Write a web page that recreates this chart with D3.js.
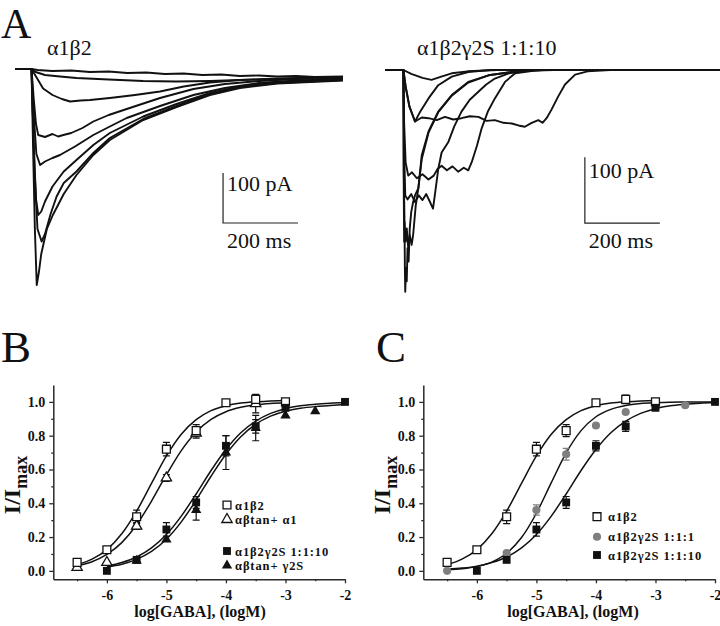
<!DOCTYPE html>
<html><head><meta charset="utf-8">
<script src="https://cdn.jsdelivr.net/npm/d3@7"></script>
<style>
body{margin:0;background:#fff}
svg{display:block;background:#fff}
text{font-family:"Liberation Serif","Times New Roman",serif;fill:#111}
</style>
</head><body>
<svg id="c" width="720" height="626"></svg>
<script>
// ---------------- DATA ----------------
// Panel A, left (α1β2): current traces [time ms, current pA]
const tracesLeft = [
  [[0,0],[44,0],[60,-2],[100,-4],[150,-3],[200,-6],[250,-5],[300,-8],[350,-7],[400,-10],[450,-9],[500,-12],[550,-11],[600,-14],[650,-13],[700,-15],[750,-14],[800,-16],[875,-15]],
  [[0,0],[44,0],[55,-6],[80,-12],[120,-15],[164,-18],[250,-21],[342,-24],[430,-25],[520,-24],[600,-22],[700,-20],[800,-18],[875,-17]],
  [[0,0],[44,0],[60,-20],[75,-39],[100,-52],[125,-60],[147,-65],[175,-63],[200,-62],[253,-58],[320,-52],[387,-45],[450,-35],[520,-27],[600,-22],[700,-19],[875,-16]],
  [[0,0],[44,0],[50,-60],[56,-110],[62,-132],[80,-136],[100,-130],[115,-135],[129,-132],[150,-128],[180,-118],[209,-105],[250,-92],[298,-80],[387,-58],[476,-40],[560,-30],[650,-24],[750,-20],[875,-18]],
  [[0,0],[44,0],[50,-90],[57,-170],[67,-192],[80,-185],[100,-178],[120,-172],[160,-155],[209,-132],[253,-115],[298,-98],[387,-74],[476,-52],[560,-38],[650,-28],[750,-23],[875,-20]],
  [[0,0],[44,0],[50,-150],[56,-260],[62,-292],[70,-285],[80,-265],[100,-235],[130,-205],[164,-182],[209,-152],[253,-128],[342,-95],[431,-70],[520,-48],[600,-35],[700,-27],[875,-22]],
  [[0,0],[44,0],[52,-200],[60,-320],[71,-345],[80,-330],[95,-290],[111,-255],[130,-228],[164,-205],[209,-168],[253,-138],[342,-100],[431,-74],[520,-50],[600,-36],[700,-28],[875,-22]],
  [[0,0],[44,0],[48,-150],[53,-320],[58,-432],[64,-405],[70,-370],[85,-320],[101,-292],[130,-250],[164,-212],[209,-172],[253,-142],[342,-102],[431,-76],[520,-52],[600,-38],[700,-29],[875,-23]]
];
// Panel A, right (α1β2γ2S 1:1:10)
const tracesRight = [
  [[0,0],[49,0],[70,-6],[100,-12],[124,-15],[150,-10],[178,-5],[220,-2],[300,0],[895,0]],
  [[0,0],[49,0],[55,-25],[65,-55],[80,-78],[98,-72],[116,-73],[138,-76],[160,-71],[182,-75],[204,-73],[226,-70],[249,-71],[271,-77],[293,-76],[316,-80],[338,-81],[356,-84],[373,-86],[391,-80],[409,-76],[420,-80],[431,-73],[444,-60],[462,-40],[480,-22],[507,-7],[540,-2],[600,0],[895,0]],
  [[0,0],[49,0],[55,-25],[65,-55],[80,-78],[95,-62],[116,-43],[142,-23],[178,-10],[222,-3],[280,0],[895,0]],
  [[0,0],[49,0],[51,-80],[55,-140],[62,-160],[72,-155],[85,-164],[100,-158],[116,-166],[130,-160],[140,-150],[151,-145],[165,-152],[180,-146],[195,-154],[210,-148],[222,-152],[231,-140],[245,-115],[258,-88],[275,-62],[293,-43],[320,-18],[347,-5],[400,-1],[450,0],[895,0]],
  [[0,0],[49,0],[51,-120],[54,-190],[60,-196],[70,-188],[80,-200],[90,-190],[100,-197],[110,-188],[120,-200],[128,-210],[134,-185],[142,-150],[151,-125],[169,-109],[185,-85],[204,-63],[226,-45],[249,-33],[270,-22],[293,-13],[330,-5],[400,0],[895,0]],
  [[0,0],[49,0],[50,-150],[52,-230],[55,-260],[58,-240],[62,-270],[66,-250],[71,-265],[75,-250],[82,-205],[89,-179],[98,-135],[116,-95],[142,-64],[178,-39],[222,-19],[276,-8],[350,-2],[420,0],[895,0]],
  [[0,0],[49,0],[50,-180],[51,-260],[52,-230],[53,-300],[54,-336],[56,-300],[58,-320],[60,-270],[63,-290],[66,-240],[70,-215],[75,-200],[80,-190],[89,-179],[98,-129],[116,-93],[142,-63],[178,-38],[222,-18],[276,-8],[350,-2],[420,0],[895,0]]
];
const scaleBarPA = 100, scaleBarMS = 200;

// Panels B & C: log[GABA] concentrations and I/Imax
const xTicks = [-6,-5,-4,-3,-2];
const yTicks = [0,0.2,0.4,0.6,0.8,1.0];

const a1b2X   = [-6.5,-6,-5.5,-5,-4.5,-4,-3.5,-3];
const a1b2Y   = [0.05,0.125,0.32,0.72,0.83,0.995,1.015,1.0];
const a1b2Err = [0,0,0.04,0.04,0.035,0,0.025,0];

const tanA1X   = [-6.5,-6,-5.5,-5,-4.5,-3.5];
const tanA1Y   = [0.02,0.05,0.265,0.55,0.815,0.99];
const tanA1Err = [0,0,0.02,0.02,0.03,0.055];

const g10X   = [-6,-5.5,-5,-4.5,-4,-3.5,-3,-2];
const g10Y   = [0.0,0.065,0.245,0.405,0.74,0.855,0.965,1.0];
const g10ErrB = [0,0,0.04,0.035,0.06,0.04,0,0];
const g10ErrC = [0,0,0.04,0.035,0.03,0.03,0.015,0];

const tanG2X   = [-5.5,-5,-4.5,-4,-3.5,-3,-2.5];
const tanG2Y   = [0.06,0.185,0.36,0.70,0.845,0.92,0.945];
const tanG2Err = [0,0,0.06,0.10,0.075,0,0];

const g1X   = [-6.5,-5.5,-5,-4.5,-4,-3.5,-2.5];
const g1Y   = [0.0,0.105,0.36,0.69,0.86,0.94,0.98];
const g1Err = [0,0,0.03,0.035,0,0,0];

// fitted curves sampled from the figure
const fitX65to3 = [-6.5,-6.25,-6,-5.75,-5.5,-5.25,-5,-4.75,-4.5,-4.25,-4,-3.75,-3.5,-3.25,-3];
const fitX6to2  = [-6,-5.75,-5.5,-5.25,-5,-4.75,-4.5,-4.25,-4,-3.75,-3.5,-3.25,-3,-2.75,-2.5,-2.25,-2];
const fitX65to2 = [-6.5,-6.25,-6,-5.75,-5.5,-5.25,-5,-4.75,-4.5,-4.25,-4,-3.75,-3.5,-3.25,-3,-2.75,-2.5,-2.25,-2];
const fitA1b2  = [0.036,0.069,0.126,0.220,0.354,0.518,0.680,0.809,0.895,0.948,0.977,0.993,1.001,1.005,1.008];
const fitTanA1 = [0.030,0.054,0.097,0.167,0.273,0.413,0.569,0.712,0.822,0.896,0.942,0.968,0.983,0.991,0.995];
const fitG10B  = [0.028,0.049,0.082,0.136,0.215,0.324,0.455,0.594,0.718,0.817,0.886,0.932,0.960,0.977,0.986,0.992,0.996];
const fitTanG2 = [0.0225,0.039,0.068,0.115,0.187,0.290,0.419,0.560,0.690,0.794,0.868,0.916,0.945,0.962,0.972,0.978,0.985];
const fitG1    = [0.006,0.012,0.025,0.052,0.104,0.197,0.341,0.522,0.698,0.830,0.912,0.956,0.979,0.990,0.995,0.998,0.999,1.0,1.0];
const fitG10C  = [0.0095,0.0165,0.028,0.049,0.082,0.136,0.215,0.324,0.455,0.594,0.718,0.817,0.886,0.932,0.960,0.977,0.986,0.992,0.996];

// ---------------- DRAW ----------------
const svg = d3.select('#c');
const INK = '#111';
const GRAY = '#7f7f7f';

// Panel letters
function letter(txt, x, y, size){
  svg.append('text').attr('x',x).attr('y',y).attr('font-size',size).text(txt);
}
letter('A', 1, 37.5, 42);
letter('B', 1, 362, 45);
letter('C', 376, 362, 45);

// ---- Panel A ----
function tracePanel(traces, xs, ys, title, titleX, barT, barI, pALabelY){
  const g = svg.append('g');
  const line = d3.line().x(d=>xs(d[0])).y(d=>ys(d[1]));
  traces.forEach(tr=>{
    g.append('path').datum(tr).attr('d',line).attr('fill','none')
      .attr('stroke',INK).attr('stroke-width',1.9).attr('stroke-linejoin','round');
  });
  svg.append('text').attr('x',titleX).attr('y',55).attr('font-size',22).text(title);
  // scale bar
  const x0 = xs(barT), y0 = ys(barI);
  g.append('path').attr('d',`M${x0},${ys(barI+scaleBarPA)}V${y0}H${xs(barT+scaleBarMS)}`)
    .attr('fill','none').attr('stroke','#222').attr('stroke-width',1.2);
  svg.append('text').attr('x',x0+4).attr('y',pALabelY).attr('font-size',22).text(scaleBarPA+' pA');
  svg.append('text').attr('x',x0+4).attr('y',248).attr('font-size',22).text(scaleBarMS+' ms');
}
const xL = d3.scaleLinear().domain([0,875]).range([15,343]);
const yL = d3.scaleLinear().domain([0,-440]).range([69,289]);
tracePanel(tracesLeft, xL, yL, 'α1β2', 47, 555, -308, 191);
const xR = d3.scaleLinear().domain([0,895]).range([385,720.6]);
const yR = d3.scaleLinear().domain([0,-336]).range([70,291.8]);
tracePanel(tracesRight, xR, yR, 'α1β2γ2S 1:1:10', 417, 533, -232, 178);

// ---- Panels B & C ----
const symSquare = d3.symbol(d3.symbolSquare, 62)();
const symTri = d3.symbol(d3.symbolTriangle, 46)();
const symCircle = d3.symbol(d3.symbolCircle, 52)();
function markerPath(shape){ return shape==='square'?symSquare:shape==='tri'?symTri:symCircle; }
function drawMarker(g, shape, style, x, y){
  const p = g.append('path').attr('d',markerPath(shape)).attr('transform',`translate(${x},${y})`);
  if(style==='open') p.attr('fill','#fff').attr('stroke',INK).attr('stroke-width',1.3);
  else if(style==='gray') p.attr('fill',GRAY);
  else p.attr('fill',INK);
}

function dosePanel(offset, series, fits, legend){
  const x = d3.scaleLinear().domain([-6.9,-2]).range([53.3+offset,345+offset]);
  const y = d3.scaleLinear().domain([-0.05,1.1]).range([579.3,385]);
  const g = svg.append('g');

  // axes
  g.append('g').attr('transform',`translate(0,579.3)`)
    .call(d3.axisBottom(x).tickValues(xTicks).tickSize(4).tickSizeOuter(0).tickPadding(7).tickFormat(d=>String(d)));
  g.append('g').attr('transform',`translate(0,579.3)`)
    .call(d3.axisBottom(x).tickValues([-6.5,-5.5,-4.5,-3.5,-2.5]).tickSize(2).tickSizeOuter(0).tickFormat(''))
    .select('.domain').remove();
  g.append('g').attr('transform',`translate(${53.3+offset},0)`)
    .call(d3.axisLeft(y).tickValues(yTicks).tickSize(4).tickSizeOuter(0).tickPadding(4).tickFormat(d3.format('.1f')));
  g.append('g').attr('transform',`translate(${53.3+offset},0)`)
    .call(d3.axisLeft(y).tickValues([0.1,0.3,0.5,0.7,0.9]).tickSize(2).tickSizeOuter(0).tickFormat(''))
    .select('.domain').remove();
  g.selectAll('.domain').attr('stroke','#2a2a2a').attr('stroke-width',1.5);
  g.selectAll('.tick line').attr('stroke','#2a2a2a').attr('stroke-width',1.3);
  g.selectAll('.tick text').attr('font-family','"Liberation Serif","Times New Roman",serif')
    .attr('font-size',14).attr('font-weight','bold').attr('fill',INK);

  // axis titles
  const yt = g.append('text').attr('transform',`translate(${20+offset},485) rotate(-90)`)
    .attr('text-anchor','middle').attr('font-weight','bold').attr('font-size',24);
  yt.append('tspan').text('I/I');
  yt.append('tspan').attr('font-size',18).attr('dy',7).text('max');
  g.append('text').attr('x',200+offset*1.008).attr('y',617).attr('text-anchor','middle')
    .attr('font-weight','bold').attr('font-size',16).text('log[GABA], (logM)');

  // fit curves
  const line = d3.line().x(d=>x(d[0])).y(d=>y(d[1])).curve(d3.curveMonotoneX);
  fits.forEach(f=>{
    g.append('path').datum(f.x.map((v,i)=>[v,f.y[i]])).attr('d',line)
      .attr('fill','none').attr('stroke',INK).attr('stroke-width',1.5);
  });

  // error bars then markers
  series.forEach(s=>{
    const col = s.style==='gray'?GRAY:INK;
    s.x.forEach((v,i)=>{
      const e = s.err[i]; if(!e) return;
      const cx = x(v), top = y(s.y[i]+e), bot = y(s.y[i]-e);
      g.append('path').attr('d',`M${cx},${top}V${bot}M${cx-3.5},${top}H${cx+3.5}M${cx-3.5},${bot}H${cx+3.5}`)
        .attr('stroke',col).attr('stroke-width',1.2).attr('fill','none');
    });
  });
  series.forEach(s=>{
    s.x.forEach((v,i)=>drawMarker(g, s.shape, s.style, x(v), y(s.y[i])));
  });

  // legend
  legend.forEach(l=>{
    drawMarker(g, l.shape, l.style, l.mx+offset, l.my);
    g.append('text').attr('x',l.tx+offset).attr('y',l.my+4.5).attr('font-weight','bold')
      .attr('font-size',12.5).attr('letter-spacing',0.9).text(l.label);
  });
}

dosePanel(0,
  [
    {x:tanA1X,y:tanA1Y,err:tanA1Err,shape:'tri',style:'open'},
    {x:a1b2X,y:a1b2Y,err:a1b2Err,shape:'square',style:'open'},
    {x:tanG2X,y:tanG2Y,err:tanG2Err,shape:'tri',style:'filled'},
    {x:g10X,y:g10Y,err:g10ErrB,shape:'square',style:'filled'}
  ],
  [
    {x:fitX65to3,y:fitA1b2},{x:fitX65to3,y:fitTanA1},
    {x:fitX6to2,y:fitG10B},{x:fitX6to2,y:fitTanG2}
  ],
  [
    {label:'α1β2',shape:'square',style:'open',mx:227,my:505,tx:235},
    {label:'αβtan+ α1',shape:'tri',style:'open',mx:227,my:519.5,tx:235},
    {label:'α1β2γ2S 1:1:10',shape:'square',style:'filled',mx:227,my:551,tx:235},
    {label:'αβtan+ γ2S',shape:'tri',style:'filled',mx:227,my:565.5,tx:235}
  ]);

dosePanel(370,
  [
    {x:a1b2X,y:a1b2Y,err:a1b2Err,shape:'square',style:'open'},
    {x:g1X,y:g1Y,err:g1Err,shape:'circle',style:'gray'},
    {x:g10X,y:g10Y,err:g10ErrC,shape:'square',style:'filled'}
  ],
  [
    {x:fitX65to3,y:fitA1b2},{x:fitX65to2,y:fitG1},{x:fitX65to2,y:fitG10C}
  ],
  [
    {label:'α1β2',shape:'square',style:'open',mx:227,my:516.7,tx:238},
    {label:'α1β2γ2S 1:1:1',shape:'circle',style:'gray',mx:227,my:536.7,tx:238},
    {label:'α1β2γ2S 1:1:10',shape:'square',style:'filled',mx:227,my:555,tx:238}
  ]);
</script>
</body></html>
